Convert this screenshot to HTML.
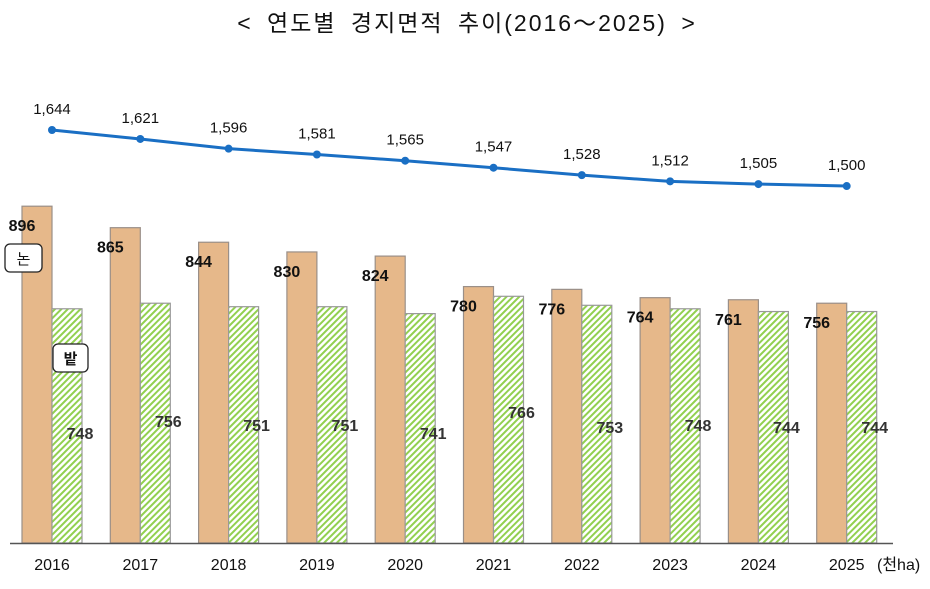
<!DOCTYPE html>
<html><head><meta charset="utf-8"><style>
body{margin:0;background:#fff;}
svg{display:block;font-family:"Liberation Sans","Noto Sans CJK KR",sans-serif;}
</style></head><body>
<svg width="930" height="589" viewBox="0 0 930 589">
<defs>
<pattern id="h" patternUnits="userSpaceOnUse" width="4.5" height="4.5" patternTransform="rotate(45)">
<rect width="4.5" height="4.5" fill="#fff"/><rect width="2" height="4.5" fill="#92d050"/>
</pattern>
</defs>
<text x="467" y="31" font-size="23" text-anchor="middle" fill="#111" letter-spacing="2" word-spacing="6">&lt; 연도별 경지면적 추이(2016～2025) &gt;</text>
<g id="bars"></g>
<line x1="10" y1="543.5" x2="893" y2="543.5" stroke="#555" stroke-width="1.5"/>
<polyline id="ln" fill="none" stroke="#1a6fc4" stroke-width="3"/>
<g id="pts"></g>
<rect x="5" y="244" width="37" height="28" rx="5" fill="#fff" stroke="#222" stroke-width="1.3"/>
<text x="23.5" y="264" font-size="15" text-anchor="middle" fill="#111">논</text>
<rect x="53" y="344" width="35" height="28" rx="5" fill="#fff" stroke="#222" stroke-width="1.3"/>
<text x="70.5" y="364" font-size="15" text-anchor="middle" fill="#111" font-weight="bold">밭</text>
</svg>
<script>
const yrs=[2016,2017,2018,2019,2020,2021,2022,2023,2024,2025];
const pad=[896,865,844,830,824,780,776,764,761,756];
const fld=[748,756,751,751,741,766,753,748,744,744];
const fy=[433,421,425,425,433,412,427,425,427,427];
const tot=[1644,1621,1596,1581,1565,1547,1528,1512,1505,1500];
const ns="http://www.w3.org/2000/svg";
const g=document.getElementById('bars'),P=document.getElementById('pts');
function el(t,a,p,txt){const e=document.createElementNS(ns,t);for(const k in a)e.setAttribute(k,a[k]);if(txt)e.textContent=txt;p.appendChild(e);return e;}
const Y=v=>543-0.693*(v-410);
const LY=v=>130+(1644-v)*0.389;
let pts=[];
yrs.forEach((yr,i)=>{
 const c=52+i*88.3;
 const yo=Y(pad[i]),yg=Y(fld[i]);
 el('rect',{x:c-30,y:yo,width:30,height:543-yo,fill:'#e6b88a',stroke:'#9a8f88','stroke-width':1.2},g);
 el('rect',{x:c,y:yg,width:30,height:543-yg,fill:'url(#h)',stroke:'#999','stroke-width':1.2},g);
 el('text',{x:c-30,y:yo+25,'font-size':16,'font-weight':'bold','text-anchor':'middle',fill:'#111'},g,pad[i]);
 el('text',{x:c+28,y:fy[i]+6,'font-size':16,'font-weight':'bold','text-anchor':'middle',fill:'#333'},g,fld[i]);
 el('text',{x:c,y:570,'font-size':16,'text-anchor':'middle',fill:'#111'},g,yr);
 const ly=LY(tot[i]);pts.push(c+','+ly);
 el('circle',{cx:c,cy:ly,r:4,fill:'#1a6fc4'},P);
 el('text',{x:c,y:ly-16,'font-size':15,'text-anchor':'middle',fill:'#111'},P,tot[i].toLocaleString('en-US'));
});
document.getElementById('ln').setAttribute('points',pts.join(' '));
el('text',{x:877,y:570,'font-size':16,fill:'#111'},g,'(천ha)');
</script>
</body></html>
